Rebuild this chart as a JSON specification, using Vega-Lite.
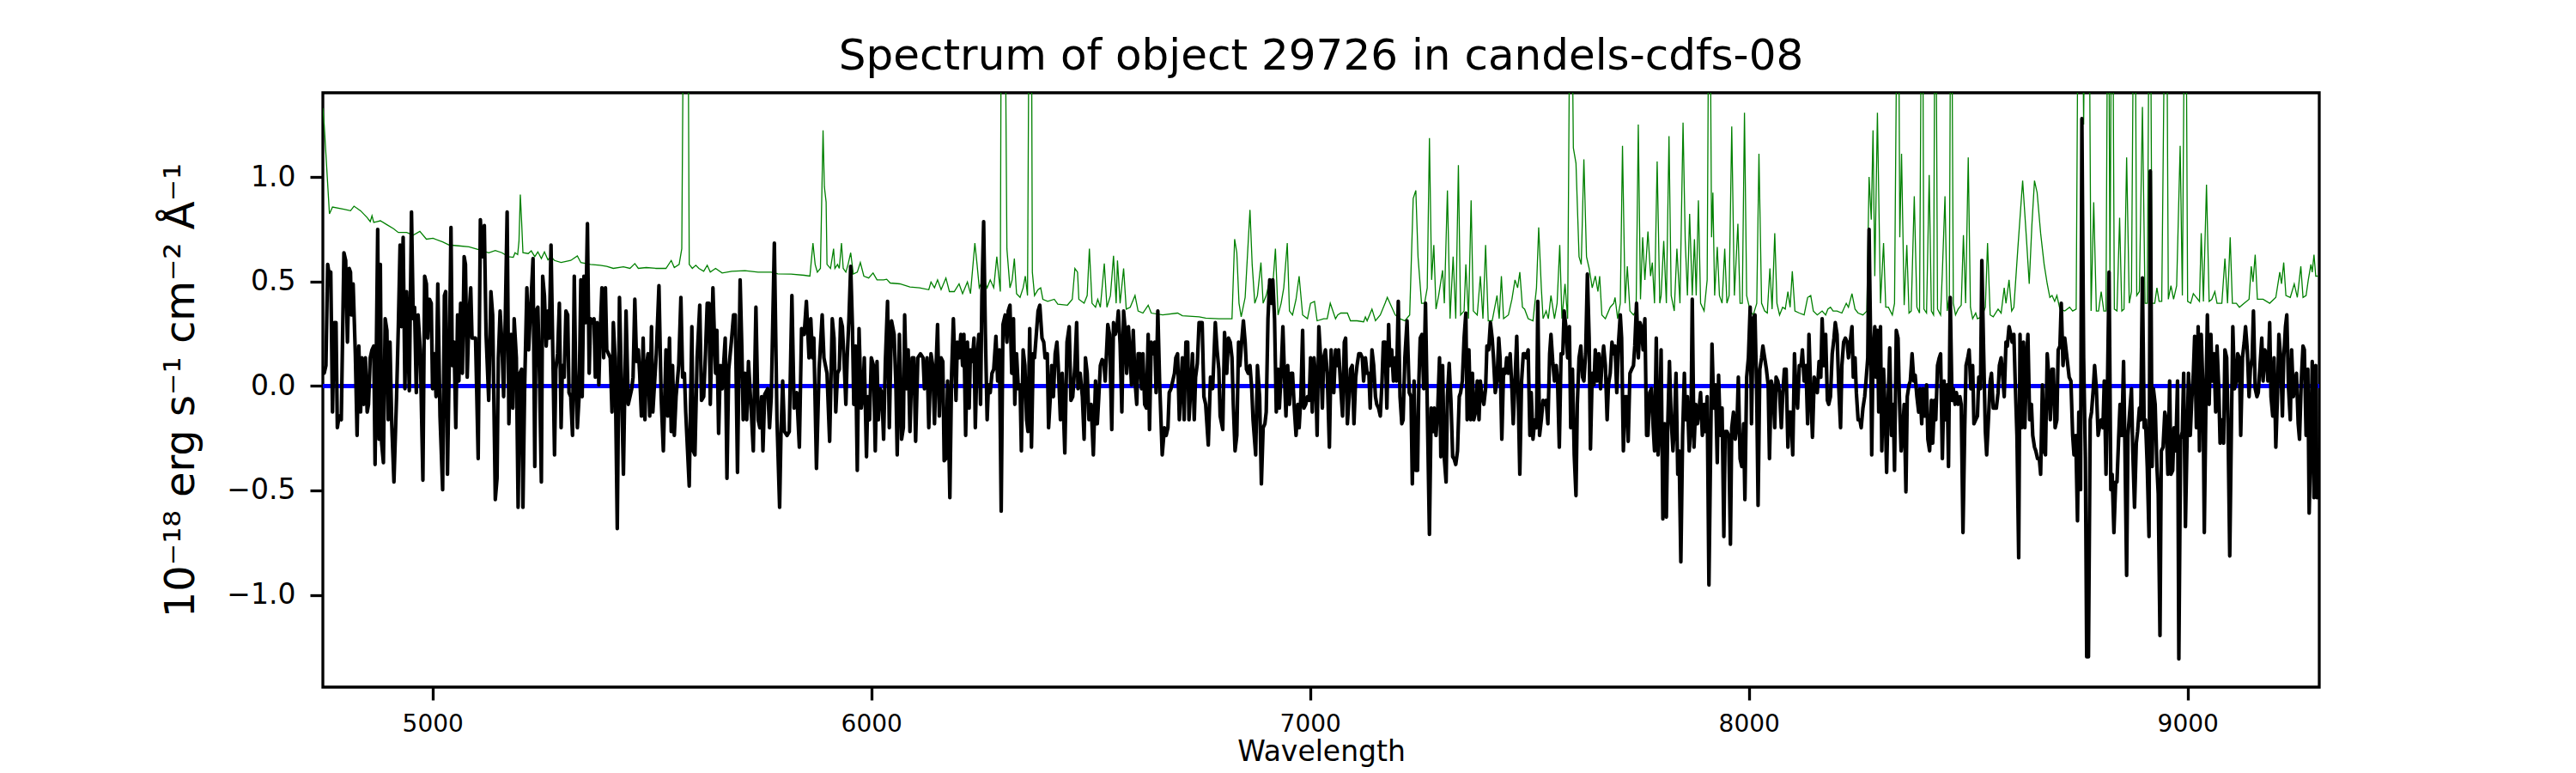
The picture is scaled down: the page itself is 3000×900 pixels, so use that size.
{
  "$schema": "https://vega.github.io/schema/vega-lite/v6.json",
  "width": 2325,
  "height": 692,
  "autosize": "none",
  "padding": {"left": 376, "top": 108, "right": 299, "bottom": 100},
  "background": "white",
  "config": {
    "font": "DejaVu Sans",
    "view": {"stroke": "black", "strokeWidth": 3.3},
    "axis": {"domain": false, "grid": false, "tickColor": "black", "tickWidth": 3.3, "tickSize": 15, "labelColor": "black", "titleColor": "black", "labelFont": "DejaVu Sans", "titleFont": "DejaVu Sans", "titleFontWeight": "normal"}
  },
  "title": {"text": "Spectrum of object 29726 in candels-cdfs-08", "fontSize": 50, "fontWeight": "normal", "font": "DejaVu Sans", "color": "black", "anchor": "middle", "frame": "group", "baseline": "alphabetic", "offset": -23},
  "datasets": {
    "zero": [{"w": 4750, "f": 0}, {"w": 9300, "f": 0}],
    "noise": [
{"w":4750,"f":1.33},{"w":4753,"f":1.252},{"w":4765,"f":0.824},{"w":4772,"f":0.857},{"w":4798,"f":0.846},{"w":4813,"f":0.839},{"w":4821,"f":0.861},{"w":4836,"f":0.839},{"w":4851,"f":0.806},{"w":4858,"f":0.787},{"w":4862,"f":0.815},{"w":4866,"f":0.783},{"w":4873,"f":0.787},{"w":4881,"f":0.791},{"w":4896,"f":0.772},{"w":4911,"f":0.753},{"w":4922,"f":0.735},{"w":4941,"f":0.735},{"w":4956,"f":0.722},{"w":4971,"f":0.74},{"w":4986,"f":0.703},{"w":5001,"f":0.707},{"w":5023,"f":0.69},{"w":5038,"f":0.675},{"w":5060,"f":0.671},{"w":5083,"f":0.666},{"w":5105,"f":0.653},{"w":5128,"f":0.638},{"w":5143,"f":0.649},{"w":5158,"f":0.638},{"w":5173,"f":0.619},{"w":5184,"f":0.616},{"w":5188,"f":0.638},{"w":5194,"f":0.629},{"w":5197,"f":0.694},{"w":5200,"f":0.917},{"w":5203,"f":0.787},{"w":5206,"f":0.638},{"w":5218,"f":0.634},{"w":5225,"f":0.647},{"w":5233,"f":0.619},{"w":5240,"f":0.642},{"w":5248,"f":0.61},{"w":5255,"f":0.642},{"w":5263,"f":0.604},{"w":5270,"f":0.619},{"w":5278,"f":0.601},{"w":5293,"f":0.591},{"w":5315,"f":0.601},{"w":5330,"f":0.623},{"w":5338,"f":0.591},{"w":5360,"f":0.582},{"w":5382,"f":0.578},{"w":5397,"f":0.573},{"w":5412,"f":0.563},{"w":5435,"f":0.571},{"w":5450,"f":0.563},{"w":5461,"f":0.586},{"w":5469,"f":0.563},{"w":5487,"f":0.567},{"w":5510,"f":0.563},{"w":5532,"f":0.563},{"w":5544,"f":0.601},{"w":5551,"f":0.567},{"w":5562,"f":0.582},{"w":5568,"f":0.657},{"w":5574,"f":2.5},{"w":5581,"f":2.5},{"w":5585,"f":0.582},{"w":5592,"f":0.563},{"w":5600,"f":0.578},{"w":5607,"f":0.563},{"w":5618,"f":0.549},{"w":5626,"f":0.578},{"w":5633,"f":0.545},{"w":5645,"f":0.563},{"w":5660,"f":0.541},{"w":5682,"f":0.549},{"w":5712,"f":0.552},{"w":5742,"f":0.545},{"w":5772,"f":0.545},{"w":5787,"f":0.537},{"w":5817,"f":0.536},{"w":5847,"f":0.53},{"w":5860,"f":0.526},{"w":5867,"f":0.684},{"w":5872,"f":0.582},{"w":5877,"f":0.545},{"w":5884,"f":0.563},{"w":5890,"f":1.224},{"w":5893,"f":0.954},{"w":5897,"f":0.88},{"w":5899,"f":0.582},{"w":5907,"f":0.563},
{"w":5914,"f":0.657},{"w":5917,"f":0.563},{"w":5923,"f":0.582},{"w":5927,"f":0.563},{"w":5932,"f":0.684},{"w":5936,"f":0.563},{"w":5942,"f":0.545},{"w":5947,"f":0.582},{"w":5953,"f":0.638},{"w":5959,"f":0.536},{"w":5968,"f":0.545},{"w":5975,"f":0.591},{"w":5983,"f":0.526},{"w":5994,"f":0.517},{"w":6004,"f":0.541},{"w":6013,"f":0.508},{"w":6028,"f":0.508},{"w":6035,"f":0.511},{"w":6043,"f":0.493},{"w":6065,"f":0.489},{"w":6088,"f":0.474},{"w":6110,"f":0.47},{"w":6131,"f":0.461},{"w":6136,"f":0.498},{"w":6144,"f":0.47},{"w":6151,"f":0.508},{"w":6159,"f":0.461},{"w":6170,"f":0.517},{"w":6178,"f":0.452},{"w":6189,"f":0.452},{"w":6200,"f":0.489},{"w":6208,"f":0.442},{"w":6219,"f":0.498},{"w":6226,"f":0.442},{"w":6236,"f":0.684},{"w":6241,"f":0.582},{"w":6246,"f":0.47},{"w":6256,"f":0.517},{"w":6264,"f":0.47},{"w":6271,"f":0.508},{"w":6279,"f":0.47},{"w":6286,"f":0.619},{"w":6294,"f":0.452},{"w":6297,"f":2.5},{"w":6303,"f":2.5},{"w":6309,"f":0.657},{"w":6316,"f":0.47},{"w":6321,"f":0.508},{"w":6326,"f":0.61},{"w":6331,"f":0.442},{"w":6339,"f":0.424},{"w":6346,"f":0.47},{"w":6351,"f":0.526},{"w":6356,"f":0.433},{"w":6361,"f":2.5},{"w":6364,"f":2.5},{"w":6367,"f":0.545},{"w":6372,"f":0.433},{"w":6380,"f":0.461},{"w":6386,"f":0.47},{"w":6391,"f":0.415},{"w":6402,"f":0.405},{"w":6417,"f":0.415},{"w":6425,"f":0.392},{"w":6447,"f":0.387},{"w":6458,"f":0.415},{"w":6464,"f":0.563},{"w":6470,"f":0.545},{"w":6473,"f":0.415},{"w":6485,"f":0.396},{"w":6492,"f":0.433},{"w":6497,"f":0.657},{"w":6503,"f":0.396},{"w":6511,"f":0.377},{"w":6516,"f":0.415},{"w":6522,"f":0.377},{"w":6531,"f":0.586},{"w":6537,"f":0.377},{"w":6545,"f":0.433},{"w":6552,"f":0.623},{"w":6558,"f":0.396},{"w":6561,"f":0.601},{"w":6567,"f":0.396},{"w":6575,"f":0.563},{"w":6581,"f":0.368},{"w":6590,"f":0.377},{"w":6601,"f":0.433},{"w":6608,"f":0.359},{"w":6619,"f":0.349},{"w":6631,"f":0.387},{"w":6638,"f":0.349},{"w":6664,"f":0.34},{"w":6698,"f":0.349},{"w":6709,"f":0.336},{"w":6747,"f":0.331},{"w":6762,"f":0.325},{"w":6792,"f":0.322},{"w":6822,"f":0.322},{"w":6828,"f":0.703},{"w":6833,"f":0.638},{"w":6838,"f":0.396},{"w":6843,"f":0.331},{"w":6852,"f":0.424},{"w":6863,"f":0.843},{"w":6868,"f":0.582},{"w":6874,"f":0.396},{"w":6880,"f":0.433},{"w":6888,"f":0.591},{"w":6893,"f":0.396},{"w":6900,"f":0.433},{"w":6908,"f":0.508},{"w":6913,"f":0.424},{"w":6921,"f":0.657},{"w":6927,"f":0.34},{"w":6934,"f":0.396},{"w":6940,"f":0.47},{"w":6948,"f":0.684},{"w":6953,"f":0.359},{"w":6960,"f":0.34},{"w":6968,"f":0.415},{"w":6975,"f":0.526},{"w":6983,"f":0.34},{"w":6994,"f":0.322},{"w":7001,"f":0.396},{"w":7010,"f":0.405},{"w":7016,"f":0.312},{"w":7031,"f":0.322},{"w":7039,"f":0.322},{"w":7046,"f":0.396},{"w":7058,"f":0.322},
{"w":7063,"f":0.34},{"w":7070,"f":0.349},{"w":7085,"f":0.349},{"w":7092,"f":0.312},{"w":7107,"f":0.312},{"w":7122,"f":0.307},{"w":7126,"f":0.331},{"w":7130,"f":0.312},{"w":7141,"f":0.368},{"w":7149,"f":0.312},{"w":7160,"f":0.34},{"w":7171,"f":0.396},{"w":7176,"f":0.424},{"w":7182,"f":0.396},{"w":7194,"f":0.34},{"w":7205,"f":0.322},{"w":7216,"f":0.312},{"w":7227,"f":0.34},{"w":7235,"f":0.898},{"w":7241,"f":0.936},{"w":7246,"f":0.619},{"w":7250,"f":0.508},{"w":7254,"f":0.396},{"w":7261,"f":0.396},{"w":7267,"f":0.47},{"w":7272,"f":1.187},{"w":7277,"f":0.508},{"w":7282,"f":0.675},{"w":7287,"f":0.368},{"w":7293,"f":0.433},{"w":7302,"f":0.554},{"w":7306,"f":0.396},{"w":7313,"f":0.936},{"w":7319,"f":0.322},{"w":7326,"f":0.619},{"w":7332,"f":0.322},{"w":7338,"f":1.057},{"w":7343,"f":0.34},{"w":7351,"f":0.359},{"w":7355,"f":0.582},{"w":7361,"f":0.322},{"w":7367,"f":0.889},{"w":7372,"f":0.359},{"w":7381,"f":0.34},{"w":7388,"f":0.526},{"w":7394,"f":0.322},{"w":7400,"f":0.675},{"w":7406,"f":0.312},{"w":7415,"f":0.312},{"w":7426,"f":0.433},{"w":7431,"f":0.322},{"w":7436,"f":0.526},{"w":7441,"f":0.322},{"w":7452,"f":0.34},{"w":7460,"f":0.415},{"w":7467,"f":0.508},{"w":7473,"f":0.47},{"w":7478,"f":0.545},{"w":7484,"f":0.377},{"w":7489,"f":0.368},{"w":7497,"f":0.322},{"w":7508,"f":0.312},{"w":7516,"f":0.47},{"w":7521,"f":0.759},{"w":7527,"f":0.47},{"w":7531,"f":0.322},{"w":7538,"f":0.359},{"w":7543,"f":0.322},{"w":7549,"f":0.433},{"w":7557,"f":0.322},{"w":7563,"f":0.396},{"w":7569,"f":0.675},{"w":7574,"f":0.322},{"w":7581,"f":0.489},{"w":7587,"f":0.322},{"w":7594,"f":2.5},{"w":7600,"f":1.14},{"w":7606,"f":1.066},{"w":7613,"f":0.619},{"w":7618,"f":0.582},{"w":7624,"f":1.085},{"w":7630,"f":0.619},{"w":7636,"f":0.563},{"w":7643,"f":0.47},{"w":7650,"f":0.526},{"w":7656,"f":0.452},{"w":7660,"f":0.526},{"w":7665,"f":0.34},{"w":7673,"f":0.322},{"w":7684,"f":0.377},{"w":7692,"f":0.396},{"w":7695,"f":0.424},{"w":7701,"f":0.322},{"w":7707,"f":0.396},{"w":7712,"f":1.15},{"w":7718,"f":0.396},{"w":7723,"f":0.573},{"w":7729,"f":0.359},{"w":7737,"f":0.34},{"w":7743,"f":0.359},{"w":7748,"f":1.252},{"w":7753,"f":0.415},{"w":7758,"f":0.712},{"w":7763,"f":0.508},{"w":7770,"f":0.74},{"w":7776,"f":0.526},{"w":7780,"f":0.591},{"w":7785,"f":0.396},{"w":7791,"f":1.075},{"w":7797,"f":0.396},{"w":7800,"f":0.433},{"w":7806,"f":0.694},{"w":7812,"f":0.396},{"w":7818,"f":1.196},{"w":7823,"f":0.433},{"w":7830,"f":0.359},{"w":7836,"f":0.657},{"w":7843,"f":0.396},{"w":7850,"f":1.261},{"w":7855,"f":0.694},{"w":7860,"f":0.433},{"w":7865,"f":0.824},{"w":7871,"f":0.433},{"w":7876,"f":0.703},{"w":7880,"f":0.433},{"w":7885,"f":0.889},{"w":7890,"f":0.396},{"w":7898,"f":0.359},{"w":7905,"f":0.508},{"w":7910,"f":2.5},{"w":7915,"f":0.712},{"w":7918,"f":0.926},{"w":7922,"f":0.433},{"w":7928,"f":0.666},{"w":7933,"f":0.433},{"w":7939,"f":0.396},{"w":7945,"f":0.657},{"w":7950,"f":0.396},{"w":7955,"f":0.433},{"w":7961,"f":1.243},{"w":7967,"f":0.433},{"w":7975,"f":0.777},{"w":7980,"f":0.396},{"w":7985,"f":0.396},{"w":7990,"f":1.308},{"w":7995,"f":0.433},{"w":8003,"f":0.359},{"w":8010,"f":0.34},{"w":8018,"f":0.396},{"w":8023,"f":1.112},{"w":8029,"f":0.396},{"w":8036,"f":0.359},{"w":8042,"f":0.349},{"w":8048,"f":0.563},{"w":8053,"f":0.368},{"w":8059,"f":0.731},{"w":8064,"f":0.396},{"w":8070,"f":0.34},{"w":8077,"f":0.377},{"w":8083,"f":0.368},{"w":8089,"f":0.452},{"w":8094,"f":0.377},{"w":8099,"f":0.549},{"w":8105,"f":0.359},{"w":8115,"f":0.349},{"w":8126,"f":0.34},{"w":8134,"f":0.424},{"w":8141,"f":0.433},{"w":8147,"f":0.359},{"w":8156,"f":0.34},{"w":8167,"f":0.359},{"w":8175,"f":0.34},{"w":8180,"f":0.368},{"w":8186,"f":0.377},{"w":8192,"f":0.359},{"w":8201,"f":0.359},{"w":8212,"f":0.349},{"w":8222,"f":0.396},
{"w":8227,"f":0.377},{"w":8235,"f":0.442},{"w":8242,"f":0.368},{"w":8249,"f":0.349},{"w":8260,"f":0.34},{"w":8269,"f":0.359},{"w":8274,"f":1.001},{"w":8279,"f":0.796},{"w":8283,"f":1.224},{"w":8287,"f":0.526},{"w":8293,"f":1.308},{"w":8300,"f":0.396},{"w":8307,"f":0.684},{"w":8312,"f":0.377},{"w":8318,"f":0.377},{"w":8327,"f":0.34},{"w":8332,"f":0.396},{"w":8340,"f":2.5},{"w":8344,"f":0.712},{"w":8348,"f":1.112},{"w":8354,"f":0.387},{"w":8360,"f":0.675},{"w":8365,"f":0.349},{"w":8370,"f":0.359},{"w":8377,"f":0.908},{"w":8383,"f":0.377},{"w":8389,"f":0.349},{"w":8395,"f":2.5},{"w":8399,"f":0.368},{"w":8405,"f":0.349},{"w":8411,"f":1.01},{"w":8416,"f":0.359},{"w":8421,"f":0.34},{"w":8425,"f":2.5},{"w":8430,"f":0.368},{"w":8437,"f":0.34},{"w":8441,"f":0.545},{"w":8447,"f":0.908},{"w":8452,"f":0.359},{"w":8457,"f":0.433},{"w":8461,"f":2.5},{"w":8466,"f":0.396},{"w":8471,"f":0.34},{"w":8477,"f":0.368},{"w":8484,"f":0.387},{"w":8489,"f":0.722},{"w":8494,"f":0.396},{"w":8500,"f":1.094},{"w":8505,"f":0.377},{"w":8510,"f":0.322},{"w":8517,"f":0.349},{"w":8521,"f":0.322},{"w":8531,"f":0.331},{"w":8539,"f":0.377},{"w":8544,"f":0.684},{"w":8550,"f":0.34},{"w":8557,"f":0.331},{"w":8568,"f":0.368},{"w":8575,"f":0.349},{"w":8582,"f":0.47},{"w":8586,"f":0.396},{"w":8593,"f":0.508},{"w":8599,"f":0.359},{"w":8604,"f":0.377},{"w":8613,"f":0.657},{"w":8624,"f":0.983},{"w":8633,"f":0.694},{"w":8639,"f":0.489},{"w":8645,"f":0.768},{"w":8651,"f":0.983},{"w":8657,"f":0.926},{"w":8665,"f":0.731},{"w":8673,"f":0.582},{"w":8680,"f":0.489},{"w":8686,"f":0.424},{"w":8691,"f":0.433},{"w":8697,"f":0.405},{"w":8702,"f":0.433},{"w":8709,"f":0.368},{"w":8720,"f":0.359},{"w":8731,"f":0.377},{"w":8738,"f":0.359},{"w":8746,"f":0.368},{"w":8752,"f":2.5},{"w":8758,"f":2.5},{"w":8763,"f":1.252},{"w":8768,"f":2.5},{"w":8774,"f":2.5},{"w":8780,"f":0.359},{"w":8786,"f":0.88},{"w":8792,"f":0.359},{"w":8797,"f":0.359},{"w":8803,"f":0.452},{"w":8809,"f":0.359},{"w":8814,"f":0.359},{"w":8819,"f":2.5},{"w":8823,"f":0.508},{"w":8828,"f":2.5},{"w":8833,"f":0.368},{"w":8839,"f":0.359},{"w":8845,"f":0.806},{"w":8850,"f":0.359},{"w":8855,"f":0.368},{"w":8861,"f":1.094},{"w":8867,"f":0.396},{"w":8872,"f":0.452},{"w":8879,"f":2.5},{"w":8884,"f":0.433},{"w":8890,"f":0.452},{"w":8897,"f":1.336},{"w":8903,"f":0.396},{"w":8908,"f":0.396},{"w":8914,"f":2.5},{"w":8919,"f":0.396},{"w":8925,"f":0.396},{"w":8930,"f":0.47},{"w":8935,"f":0.405},{"w":8941,"f":0.405},{"w":8951,"f":2.5},{"w":8956,"f":0.415},{"w":8962,"f":0.48},{"w":8968,"f":0.415},{"w":8975,"f":0.48},{"w":8983,"f":1.15},{"w":8988,"f":0.433},{"w":8995,"f":2.5},{"w":9000,"f":0.405},{"w":9007,"f":0.396},{"w":9013,"f":0.442},{"w":9020,"f":0.424},{"w":9027,"f":0.405},{"w":9031,"f":0.731},{"w":9036,"f":0.405},{"w":9043,"f":0.964},{"w":9049,"f":0.405},{"w":9055,"f":0.415},{"w":9062,"f":0.452},{"w":9067,"f":0.396},{"w":9078,"f":0.396},{"w":9085,"f":0.61},{"w":9091,"f":0.396},{"w":9097,"f":0.712},{"w":9102,"f":0.396},{"w":9111,"f":0.396},{"w":9118,"f":0.377},{"w":9129,"f":0.396},{"w":9140,"f":0.415},{"w":9145,"f":0.573},{"w":9149,"f":0.498},{"w":9154,"f":0.629},{"w":9159,"f":0.415},{"w":9172,"f":0.415},{"w":9187,"f":0.396},{"w":9201,"f":0.424},{"w":9210,"f":0.545},{"w":9214,"f":0.489},{"w":9219,"f":0.591},{"w":9224,"f":0.433},{"w":9234,"f":0.424},{"w":9243,"f":0.489},{"w":9250,"f":0.424},{"w":9258,"f":0.573},{"w":9263,"f":0.424},{"w":9270,"f":0.433},{"w":9275,"f":0.508},{"w":9281,"f":0.582},{"w":9284,"f":0.545},{"w":9288,"f":0.629},{"w":9292,"f":0.526},{"w":9297,"f":0.526}
    ],
    "flux": [
{"w":4750,"f":0.06},{"w":4753,"f":0.061},{"w":4757,"f":0.098},{"w":4761,"f":0.582},{"w":4765,"f":0.526},{"w":4768,"f":0.545},{"w":4772,"f":-0.125},{"w":4776,"f":0.303},{"w":4780,"f":0.303},{"w":4783,"f":-0.2},{"w":4787,"f":-0.144},{"w":4792,"f":-0.162},{"w":4798,"f":0.638},{"w":4802,"f":0.601},{"w":4806,"f":0.21},{"w":4810,"f":0.563},{"w":4813,"f":0.545},{"w":4815,"f":0.34},{"w":4819,"f":0.489},{"w":4824,"f":0.154},{"w":4828,"f":-0.237},{"w":4832,"f":0.191},{"w":4836,"f":-0.125},{"w":4839,"f":0.135},{"w":4843,"f":-0.088},{"w":4847,"f":0.135},{"w":4851,"f":-0.125},{"w":4854,"f":-0.088},{"w":4858,"f":0.135},{"w":4862,"f":0.173},{"w":4866,"f":0.191},{"w":4869,"f":-0.376},{"w":4875,"f":0.75},{"w":4878,"f":-0.255},{"w":4881,"f":0.582},{"w":4884,"f":-0.274},{"w":4888,"f":-0.367},{"w":4892,"f":0.322},{"w":4896,"f":0.266},{"w":4899,"f":-0.162},{"w":4903,"f":0.21},{"w":4907,"f":-0.181},{"w":4912,"f":-0.46},{"w":4918,"f":-0.051},{"w":4922,"f":0.284},{"w":4926,"f":0.675},{"w":4929,"f":0.284},{"w":4933,"f":0.712},{"w":4937,"f":-0.013},{"w":4941,"f":0.452},{"w":4947,"f":-0.023},{"w":4952,"f":0.833},{"w":4956,"f":0.322},{"w":4959,"f":0.377},{"w":4963,"f":-0.032},{"w":4967,"f":0.34},{"w":4972,"f":0.173},{"w":4978,"f":-0.451},{"w":4982,"f":0.526},{"w":4986,"f":0.489},{"w":4989,"f":0.229},{"w":4993,"f":0.415},{"w":4997,"f":0.396},{"w":5000,"f":-0.013},{"w":5004,"f":0.154},{"w":5008,"f":-0.051},{"w":5012,"f":0.489},{"w":5017,"f":-0.144},{"w":5023,"f":-0.497},{"w":5027,"f":0.433},{"w":5030,"f":0.452},{"w":5034,"f":-0.423},{"w":5038,"f":0.098},{"w":5042,"f":0.759},{"w":5045,"f":0.098},{"w":5049,"f":0.21},{"w":5053,"f":-0.2},{"w":5057,"f":0.34},{"w":5060,"f":0.024},{"w":5064,"f":0.396},{"w":5068,"f":0.061},{"w":5072,"f":0.619},{"w":5075,"f":0.582},{"w":5079,"f":0.042},{"w":5083,"f":0.34},{"w":5087,"f":0.47},{"w":5090,"f":0.229},{"w":5098,"f":0.229},{"w":5104,"f":-0.348},{"w":5109,"f":0.796},{"w":5113,"f":0.619},{"w":5118,"f":0.768},{"w":5122,"f":0.247},{"w":5128,"f":-0.069},{"w":5133,"f":0.452},{"w":5137,"f":0.34},{"w":5143,"f":-0.544},{"w":5147,"f":-0.442},{"w":5150,"f":0.135},{"w":5154,"f":0.359},{"w":5158,"f":0.21},{"w":5162,"f":-0.051},{"w":5165,"f":0.229},{"w":5170,"f":0.833},{"w":5174,"f":-0.181},{"w":5179,"f":0.247},{"w":5183,"f":-0.106},{"w":5186,"f":0.322},{"w":5191,"f":0.135},{"w":5195,"f":-0.581},{"w":5199,"f":0.061},{"w":5203,"f":0.08},{"w":5206,"f":-0.581},{"w":5210,"f":0.005},{"w":5215,"f":0.47},{"w":5219,"f":0.173},{"w":5225,"f":0.433},{"w":5229,"f":0.61},{"w":5233,"f":-0.386},{"w":5236,"f":0.359},{"w":5240,"f":0.377},{"w":5244,"f":0.024},{"w":5248,"f":-0.46},{"w":5251,"f":0.526},{"w":5255,"f":0.433},{"w":5259,"f":0.191},{"w":5263,"f":0.359},{"w":5266,"f":0.229},{"w":5270,"f":0.675},{"w":5274,"f":0.173},{"w":5278,"f":-0.33},{"w":5281,"f":0.08},{"w":5285,"f":0.154},{"w":5289,"f":0.396},{"w":5293,"f":-0.2},{"w":5296,"f":0.098},{"w":5300,"f":0.042},{"w":5304,"f":0.359},{"w":5308,"f":0.34},{"w":5311,"f":-0.032},{"w":5315,"f":-0.051},{"w":5319,"f":-0.237},{"w":5323,"f":0.526},{"w":5326,"f":0.08},{"w":5330,"f":-0.2},{"w":5334,"f":-0.051},{"w":5338,"f":0.508},{"w":5341,"f":-0.051},{"w":5345,"f":0.526},{"w":5349,"f":0.303},{"w":5353,"f":0.777},{"w":5357,"f":0.061},{"w":5360,"f":0.322},{"w":5364,"f":0.303},{"w":5368,"f":0.322},{"w":5371,"f":0.042},{"w":5375,"f":0.303},{"w":5379,"f":0.005},{"w":5382,"f":0.247},{"w":5386,"f":0.47},{"w":5390,"f":0.135},{"w":5394,"f":0.47},{"w":5397,"f":0.173},{"w":5401,"f":0.154},{"w":5405,"f":0.135},{"w":5409,"f":-0.125},{"w":5412,"f":0.303},{"w":5416,"f":0.135},{"w":5421,"f":-0.683},{"w":5426,"f":0.424},{"w":5431,"f":-0.032},{"w":5435,"f":-0.423},{"w":5441,"f":0.359},{"w":5446,"f":-0.088},{"w":5450,"f":-0.051},{"w":5454,"f":-0.013},{"w":5457,"f":0.042},{"w":5461,"f":0.415},{"w":5465,"f":0.117},{"w":5469,"f":0.173},{"w":5472,"f":0.061},{"w":5476,"f":-0.144},{"w":5480,"f":0.229},{"w":5484,"f":-0.162},{"w":5487,"f":0.08},{"w":5491,"f":0.154},{"w":5495,"f":-0.144},{"w":5499,"f":0.284},{"w":5502,"f":-0.125},{"w":5510,"f":0.154},{"w":5516,"f":0.48},{"w":5521,"f":-0.051},{"w":5526,"f":-0.311},{"w":5532,"f":0.173},{"w":5536,"f":-0.144},{"w":5540,"f":0.229},{"w":5544,"f":-0.218},{"w":5547,"f":0.098},{"w":5551,"f":-0.237},{"w":5555,"f":-0.051},{"w":5561,"f":0.098},{"w":5566,"f":0.424},{"w":5570,"f":0.042},{"w":5574,"f":0.061},{"w":5577,"f":-0.125},{"w":5585,"f":-0.479},{"w":5591,"f":0.284},{"w":5594,"f":-0.311},{"w":5598,"f":-0.33},{"w":5603,"f":0.135},{"w":5609,"f":0.387},{"w":5613,"f":-0.069},{"w":5618,"f":-0.051},{"w":5622,"f":0.154},{"w":5626,"f":0.396},{"w":5630,"f":0.396},{"w":5633,"f":-0.088},{"w":5639,"f":0.47},{"w":5645,"f":0.061},{"w":5648,"f":0.266},{"w":5652,"f":-0.227},{"w":5656,"f":0.098},{"w":5660,"f":-0.013},{"w":5667,"f":0.229},{"w":5671,"f":-0.442},{"w":5675,"f":0.08},{"w":5681,"f":0.21},{"w":5686,"f":0.34},{"w":5690,"f":0.34},{"w":5695,"f":-0.414},{"w":5701,"f":0.508},{"w":5705,"f":0.173},{"w":5708,"f":-0.162},{"w":5712,"f":0.061},{"w":5716,"f":-0.162},{"w":5720,"f":0.117},{"w":5723,"f":0.005},{"w":5727,"f":-0.144},{"w":5731,"f":-0.311},{"w":5737,"f":0.377},{"w":5742,"f":-0.162},{"w":5746,"f":-0.2},{"w":5750,"f":-0.051},{"w":5753,"f":-0.311},{"w":5757,"f":-0.041},{"w":5764,"f":-0.013},{"w":5768,"f":-0.2},{"w":5772,"f":-0.051},{"w":5779,"f":0.684},{"w":5785,"f":-0.162},{"w":5791,"f":-0.581},{"w":5794,"f":-0.237},{"w":5798,"f":0.024},{"w":5802,"f":-0.218},{"w":5808,"f":-0.237},{"w":5813,"f":-0.218},{"w":5819,"f":0.433},{"w":5824,"f":-0.106},{"w":5830,"f":-0.032},{"w":5836,"f":-0.293},{"w":5841,"f":0.275},{"w":5847,"f":0.247},{"w":5852,"f":0.405},{"w":5858,"f":0.135},{"w":5862,"f":0.322},{"w":5866,"f":0.135},{"w":5869,"f":0.229},{"w":5875,"f":-0.395},{"w":5881,"f":0.08},{"w":5888,"f":0.34},{"w":5892,"f":0.135},{"w":5899,"f":0.061},{"w":5905,"f":-0.265},{"w":5911,"f":0.322},
{"w":5915,"f":0.229},{"w":5919,"f":-0.125},{"w":5923,"f":0.061},{"w":5927,"f":0.08},{"w":5930,"f":0.322},{"w":5934,"f":0.284},{"w":5938,"f":0.117},{"w":5942,"f":-0.088},{"w":5945,"f":0.135},{"w":5949,"f":0.322},{"w":5953,"f":0.573},{"w":5957,"f":0.284},{"w":5960,"f":-0.088},{"w":5964,"f":0.191},{"w":5968,"f":-0.404},{"w":5972,"f":0.275},{"w":5977,"f":-0.106},{"w":5981,"f":-0.032},{"w":5984,"f":0.135},{"w":5989,"f":-0.339},{"w":5992,"f":-0.051},{"w":5996,"f":-0.162},{"w":6000,"f":0.135},{"w":6005,"f":0.098},{"w":6009,"f":-0.311},{"w":6013,"f":0.117},{"w":6016,"f":-0.162},{"w":6020,"f":-0.013},{"w":6024,"f":-0.032},{"w":6028,"f":-0.255},{"w":6032,"f":0.117},{"w":6037,"f":0.405},{"w":6041,"f":-0.2},{"w":6046,"f":0.312},{"w":6052,"f":0.247},{"w":6056,"f":0.005},{"w":6059,"f":-0.33},{"w":6064,"f":0.247},{"w":6069,"f":-0.255},{"w":6073,"f":-0.2},{"w":6076,"f":0.34},{"w":6080,"f":-0.013},{"w":6084,"f":0.173},{"w":6088,"f":-0.218},{"w":6093,"f":0.135},{"w":6097,"f":0.135},{"w":6101,"f":-0.265},{"w":6106,"f":0.135},{"w":6112,"f":0.154},{"w":6118,"f":0.135},{"w":6121,"f":-0.013},{"w":6127,"f":0.135},{"w":6131,"f":-0.2},{"w":6136,"f":0.154},{"w":6140,"f":0.098},{"w":6144,"f":-0.181},{"w":6148,"f":0.117},{"w":6151,"f":0.294},{"w":6155,"f":-0.144},{"w":6159,"f":0.135},{"w":6163,"f":0.117},{"w":6166,"f":-0.358},{"w":6170,"f":-0.348},{"w":6174,"f":0.024},{"w":6179,"f":-0.535},{"w":6183,"f":0.061},{"w":6187,"f":0.322},{"w":6193,"f":-0.069},{"w":6196,"f":0.21},{"w":6200,"f":0.135},{"w":6204,"f":0.247},{"w":6208,"f":0.098},{"w":6211,"f":0.247},{"w":6215,"f":-0.237},{"w":6219,"f":0.21},{"w":6223,"f":-0.106},{"w":6226,"f":0.173},{"w":6230,"f":0.117},{"w":6234,"f":0.229},{"w":6237,"f":-0.2},{"w":6241,"f":0.135},{"w":6245,"f":0.247},{"w":6249,"f":-0.088},{"w":6252,"f":0.433},{"w":6256,"f":0.787},{"w":6260,"f":0.247},{"w":6264,"f":-0.162},{"w":6267,"f":0.005},{"w":6271,"f":-0.032},{"w":6275,"f":0.061},{"w":6279,"f":0.08},{"w":6284,"f":0.238},{"w":6288,"f":0.024},{"w":6292,"f":0.173},{"w":6296,"f":-0.6},{"w":6300,"f":0.294},{"w":6305,"f":0.34},{"w":6309,"f":0.21},{"w":6312,"f":0.359},{"w":6316,"f":0.387},{"w":6320,"f":0.061},{"w":6324,"f":0.322},{"w":6327,"f":-0.088},{"w":6331,"f":0.154},{"w":6335,"f":-0.013},{"w":6339,"f":0.005},{"w":6342,"f":-0.311},{"w":6346,"f":0.173},{"w":6350,"f":0.098},{"w":6354,"f":-0.162},{"w":6357,"f":-0.218},{"w":6361,"f":0.275},{"w":6365,"f":-0.293},{"w":6369,"f":0.154},{"w":6372,"f":0.135},{"w":6380,"f":0.359},{"w":6384,"f":0.387},{"w":6389,"f":0.229},{"w":6393,"f":0.21},{"w":6396,"f":0.135},{"w":6401,"f":0.154},{"w":6404,"f":-0.2},{"w":6408,"f":-0.051},{"w":6411,"f":0.098},{"w":6415,"f":-0.051},{"w":6419,"f":0.154},{"w":6423,"f":0.21},{"w":6426,"f":0.098},{"w":6431,"f":-0.162},{"w":6435,"f":0.061},{"w":6441,"f":-0.321},{"w":6446,"f":0.21},{"w":6451,"f":0.284},{"w":6455,"f":-0.069},{"w":6459,"f":-0.051},{"w":6464,"f":0.098},{"w":6468,"f":0.303},{"w":6471,"f":-0.013},{"w":6476,"f":0.061},{"w":6481,"f":-0.051},{"w":6485,"f":-0.255},{"w":6488,"f":0.135},{"w":6492,"f":0.061},{"w":6496,"f":-0.162},{"w":6501,"f":-0.088},{"w":6506,"f":-0.33},{"w":6511,"f":0.024},{"w":6515,"f":-0.181},{"w":6518,"f":-0.069},{"w":6522,"f":0.098},{"w":6526,"f":0.126},{"w":6530,"f":0.117},{"w":6533,"f":0.024},{"w":6539,"f":0.294},{"w":6543,"f":0.247},{"w":6548,"f":-0.209},{"w":6552,"f":0.303},{"w":6556,"f":0.247},{"w":6560,"f":0.284},{"w":6563,"f":0.359},{"w":6567,"f":0.201},{"w":6571,"f":-0.125},{"w":6575,"f":0.359},{"w":6578,"f":0.284},{"w":6582,"f":0.061},{"w":6586,"f":0.284},{"w":6590,"f":0.135},{"w":6593,"f":0.005},{"w":6597,"f":0.266},{"w":6601,"f":0.024},{"w":6605,"f":-0.088},{"w":6608,"f":0.154},{"w":6612,"f":0.154},{"w":6616,"f":-0.013},{"w":6619,"f":0.154},{"w":6623,"f":-0.088},{"w":6627,"f":-0.106},{"w":6631,"f":0.247},{"w":6634,"f":-0.209},{"w":6638,"f":0.21},{"w":6642,"f":0.154},{"w":6646,"f":0.21},{"w":6649,"f":-0.032},{"w":6653,"f":0.359},{"w":6657,"f":0.024},{"w":6663,"f":-0.33},{"w":6668,"f":-0.2},{"w":6672,"f":-0.237},{"w":6676,"f":-0.2},{"w":6679,"f":-0.032},{"w":6683,"f":-0.013},{"w":6687,"f":0.024},{"w":6691,"f":0.061},{"w":6694,"f":0.135},{"w":6698,"f":0.154},{"w":6702,"f":-0.162},{"w":6706,"f":0.024},{"w":6709,"f":0.135},{"w":6713,"f":-0.162},{"w":6717,"f":0.21},{"w":6721,"f":0.21},{"w":6724,"f":-0.162},{"w":6728,"f":-0.013},{"w":6732,"f":0.154},{"w":6736,"f":-0.162},{"w":6739,"f":0.042},{"w":6743,"f":0.108},{"w":6747,"f":0.303},{"w":6751,"f":0.303},{"w":6754,"f":0.303},{"w":6758,"f":-0.051},{"w":6762,"f":-0.088},{"w":6768,"f":-0.283},{"w":6773,"f":0.042},{"w":6778,"f":-0.013},{"w":6784,"f":0.303},{"w":6788,"f":0.173},{"w":6792,"f":0.08},{"w":6795,"f":-0.144},{"w":6801,"f":-0.209},{"w":6805,"f":0.256},{"w":6810,"f":0.061},{"w":6814,"f":0.229},{"w":6818,"f":0.21},{"w":6822,"f":0.135},{"w":6825,"f":-0.088},{"w":6829,"f":-0.311},{"w":6833,"f":-0.237},{"w":6837,"f":0.21},{"w":6840,"f":0.098},{"w":6844,"f":0.21},{"w":6848,"f":0.312},{"w":6852,"f":0.21},{"w":6855,"f":0.08},{"w":6859,"f":0.061},{"w":6863,"f":0.098},{"w":6867,"f":-0.013},{"w":6870,"f":-0.162},{"w":6876,"f":-0.33},{"w":6880,"f":0.098},{"w":6885,"f":-0.051},{"w":6889,"f":-0.469},{"w":6893,"f":-0.2},{"w":6897,"f":-0.181},{"w":6900,"f":-0.125},{"w":6904,"f":0.322},{"w":6908,"f":0.508},{"w":6912,"f":0.396},{"w":6915,"f":0.508},{"w":6919,"f":0.322},{"w":6923,"f":-0.125},{"w":6927,"f":0.08},{"w":6930,"f":-0.106},{"w":6934,"f":0.061},{"w":6938,"f":0.284},{"w":6942,"f":0.024},{"w":6945,"f":-0.144},{"w":6949,"f":0.098},{"w":6953,"f":-0.088},{"w":6957,"f":0.061},{"w":6960,"f":0.061},{"w":6964,"f":-0.106},{"w":6968,"f":-0.237},{"w":6972,"f":-0.088},{"w":6975,"f":-0.2},{"w":6979,"f":-0.051},{"w":6983,"f":0.266},{"w":6986,"f":-0.106},{"w":6990,"f":-0.088},{"w":6994,"f":-0.051},{"w":6998,"f":-0.069},{"w":7001,"f":0.135},{"w":7005,"f":-0.125},{"w":7009,"f":0.135},{"w":7013,"f":0.024},{"w":7016,"f":-0.237},{"w":7020,"f":0.284},{"w":7024,"f":0.135},{"w":7028,"f":-0.106},{"w":7031,"f":0.135},{"w":7035,"f":0.173},{"w":7039,"f":0.061},{"w":7044,"f":-0.293},{"w":7048,"f":0.173},{"w":7054,"f":-0.032},{"w":7058,"f":0.173},{"w":7061,"f":0.098},{"w":7065,"f":0.173},
{"w":7070,"f":-0.013},{"w":7074,"f":-0.144},{"w":7078,"f":0.21},{"w":7081,"f":0.229},{"w":7085,"f":-0.181},{"w":7089,"f":-0.051},{"w":7092,"f":0.08},{"w":7096,"f":0.098},{"w":7100,"f":-0.181},{"w":7104,"f":0.042},{"w":7107,"f":0.098},{"w":7111,"f":0.154},{"w":7115,"f":0.154},{"w":7119,"f":0.135},{"w":7122,"f":0.024},{"w":7126,"f":0.135},{"w":7130,"f":0.061},{"w":7134,"f":0.061},{"w":7137,"f":-0.106},{"w":7141,"f":0.173},{"w":7145,"f":0.098},{"w":7149,"f":-0.051},{"w":7152,"f":-0.088},{"w":7156,"f":-0.106},{"w":7160,"f":-0.144},{"w":7164,"f":0.024},{"w":7167,"f":0.21},{"w":7171,"f":0.21},{"w":7175,"f":-0.106},{"w":7179,"f":0.294},{"w":7182,"f":0.098},{"w":7186,"f":0.173},{"w":7190,"f":0.024},{"w":7194,"f":0.135},{"w":7197,"f":0.024},{"w":7201,"f":0.405},{"w":7205,"f":-0.051},{"w":7209,"f":-0.181},{"w":7212,"f":-0.162},{"w":7216,"f":0.135},{"w":7221,"f":0.312},{"w":7226,"f":-0.032},{"w":7230,"f":-0.051},{"w":7233,"f":-0.469},{"w":7237,"f":0.024},{"w":7241,"f":-0.404},{"w":7245,"f":-0.404},{"w":7248,"f":0.024},{"w":7251,"f":0.229},{"w":7255,"f":0.247},{"w":7259,"f":-0.013},{"w":7263,"f":0.396},{"w":7267,"f":-0.088},{"w":7272,"f":-0.711},{"w":7276,"f":-0.106},{"w":7280,"f":-0.218},{"w":7283,"f":-0.106},{"w":7287,"f":-0.237},{"w":7291,"f":-0.106},{"w":7295,"f":0.135},{"w":7298,"f":-0.339},{"w":7302,"f":0.098},{"w":7306,"f":-0.348},{"w":7310,"f":-0.46},{"w":7313,"f":-0.051},{"w":7317,"f":0.108},{"w":7321,"f":-0.069},{"w":7325,"f":-0.339},{"w":7328,"f":-0.348},{"w":7332,"f":-0.376},{"w":7336,"f":-0.311},{"w":7340,"f":-0.051},{"w":7343,"f":-0.032},{"w":7347,"f":0.024},{"w":7351,"f":0.229},{"w":7355,"f":0.349},{"w":7358,"f":-0.162},{"w":7362,"f":0.173},{"w":7366,"f":-0.162},{"w":7370,"f":0.061},{"w":7373,"f":-0.162},{"w":7377,"f":-0.125},{"w":7381,"f":0.024},{"w":7385,"f":-0.162},{"w":7388,"f":0.024},{"w":7392,"f":-0.051},{"w":7396,"f":-0.088},{"w":7400,"f":-0.013},{"w":7403,"f":0.191},{"w":7407,"f":0.173},{"w":7411,"f":0.303},{"w":7415,"f":0.229},{"w":7418,"f":0.135},{"w":7422,"f":-0.032},{"w":7426,"f":0.024},{"w":7430,"f":0.229},{"w":7433,"f":0.135},{"w":7437,"f":-0.255},{"w":7441,"f":0.08},{"w":7445,"f":0.061},{"w":7448,"f":0.135},{"w":7452,"f":0.061},{"w":7456,"f":0.154},{"w":7460,"f":-0.013},{"w":7463,"f":-0.181},{"w":7467,"f":0.024},{"w":7471,"f":0.238},{"w":7474,"f":-0.013},{"w":7478,"f":-0.423},{"w":7482,"f":0.024},{"w":7486,"f":0.154},{"w":7489,"f":0.154},{"w":7493,"f":0.135},{"w":7497,"f":0.173},{"w":7501,"f":-0.237},{"w":7504,"f":-0.032},{"w":7508,"f":-0.255},{"w":7512,"f":-0.162},{"w":7516,"f":-0.2},{"w":7519,"f":0.405},{"w":7523,"f":-0.237},{"w":7527,"f":-0.162},{"w":7531,"f":-0.069},{"w":7534,"f":-0.088},{"w":7538,"f":-0.069},{"w":7542,"f":-0.181},{"w":7546,"f":0.154},{"w":7549,"f":0.247},{"w":7553,"f":0.117},{"w":7557,"f":0.024},{"w":7561,"f":0.098},{"w":7564,"f":0.024},{"w":7568,"f":-0.293},{"w":7572,"f":0.154},{"w":7576,"f":0.154},{"w":7579,"f":0.359},{"w":7583,"f":0.284},{"w":7587,"f":0.135},{"w":7591,"f":0.284},{"w":7594,"f":-0.2},{"w":7598,"f":0.08},{"w":7602,"f":-0.33},{"w":7606,"f":-0.525},{"w":7609,"f":-0.088},{"w":7613,"f":0.135},{"w":7617,"f":0.191},{"w":7621,"f":0.042},{"w":7624,"f":0.024},{"w":7628,"f":0.154},{"w":7632,"f":0.536},{"w":7636,"f":0.229},{"w":7639,"f":-0.302},{"w":7643,"f":0.061},{"w":7647,"f":0.005},{"w":7650,"f":0.173},{"w":7654,"f":0.024},{"w":7658,"f":0.154},{"w":7662,"f":-0.013},{"w":7665,"f":0.098},{"w":7669,"f":0.191},{"w":7673,"f":0.098},{"w":7677,"f":-0.162},{"w":7680,"f":0.005},{"w":7684,"f":0.061},{"w":7688,"f":0.21},{"w":7692,"f":0.154},{"w":7695,"f":0.191},{"w":7699,"f":-0.032},{"w":7703,"f":0.21},{"w":7707,"f":0.34},{"w":7710,"f":0.229},{"w":7714,"f":-0.311},{"w":7718,"f":-0.051},{"w":7722,"f":-0.051},{"w":7725,"f":-0.265},{"w":7729,"f":0.061},{"w":7733,"f":0.08},{"w":7737,"f":0.098},{"w":7740,"f":0.191},{"w":7744,"f":0.396},{"w":7748,"f":0.135},{"w":7752,"f":0.303},{"w":7755,"f":0.284},{"w":7759,"f":0.173},{"w":7763,"f":0.322},{"w":7767,"f":-0.237},{"w":7770,"f":-0.237},{"w":7774,"f":-0.032},{"w":7778,"f":-0.013},{"w":7782,"f":-0.2},{"w":7785,"f":-0.311},{"w":7789,"f":0.229},{"w":7793,"f":-0.33},{"w":7797,"f":-0.162},{"w":7800,"f":0.173},{"w":7804,"f":-0.637},{"w":7808,"f":-0.181},{"w":7812,"f":-0.628},{"w":7815,"f":-0.2},{"w":7819,"f":0.117},{"w":7823,"f":-0.162},{"w":7827,"f":-0.311},{"w":7830,"f":-0.2},{"w":7834,"f":0.061},{"w":7838,"f":-0.423},{"w":7841,"f":-0.311},{"w":7845,"f":-0.842},{"w":7849,"f":-0.237},{"w":7853,"f":0.061},{"w":7856,"f":-0.162},{"w":7860,"f":-0.051},{"w":7864,"f":-0.311},{"w":7868,"f":-0.2},{"w":7871,"f":0.415},{"w":7875,"f":-0.293},{"w":7879,"f":-0.088},{"w":7883,"f":-0.181},{"w":7886,"f":-0.125},{"w":7890,"f":-0.032},{"w":7894,"f":-0.237},{"w":7898,"f":-0.088},{"w":7901,"f":-0.218},{"w":7905,"f":-0.051},{"w":7909,"f":-0.953},{"w":7913,"f":-0.274},{"w":7916,"f":0.201},{"w":7920,"f":-0.106},{"w":7924,"f":0.005},{"w":7928,"f":-0.367},{"w":7931,"f":0.052},{"w":7935,"f":-0.237},{"w":7939,"f":-0.106},{"w":7943,"f":-0.721},{"w":7946,"f":-0.218},{"w":7950,"f":-0.218},{"w":7954,"f":-0.237},{"w":7958,"f":-0.758},{"w":7961,"f":-0.2},{"w":7965,"f":-0.125},{"w":7969,"f":-0.255},{"w":7973,"f":-0.181},{"w":7976,"f":0.042},{"w":7980,"f":-0.348},{"w":7984,"f":-0.386},{"w":7988,"f":-0.181},{"w":7991,"f":-0.544},{"w":7995,"f":0.042},{"w":7999,"f":0.135},{"w":8003,"f":0.377},{"w":8006,"f":-0.181},{"w":8010,"f":0.322},{"w":8014,"f":0.34},{"w":8018,"f":-0.051},{"w":8021,"f":-0.572},{"w":8025,"f":0.08},{"w":8029,"f":0.135},{"w":8032,"f":0.191},{"w":8036,"f":0.135},{"w":8040,"f":0.08},{"w":8044,"f":0.005},{"w":8047,"f":-0.348},{"w":8051,"f":0.024},{"w":8055,"f":-0.013},{"w":8059,"f":-0.2},{"w":8062,"f":0.042},{"w":8066,"f":0.024},{"w":8070,"f":-0.032},{"w":8074,"f":-0.2},{"w":8077,"f":-0.051},{"w":8081,"f":0.08},{"w":8085,"f":0.08},{"w":8089,"f":-0.293},{"w":8092,"f":-0.125},{"w":8096,"f":-0.125},{"w":8100,"f":-0.33},{"w":8104,"f":0.154},{"w":8107,"f":-0.013},{"w":8111,"f":-0.106},{"w":8115,"f":0.098},{"w":8119,"f":0.098},{"w":8122,"f":0.173},{"w":8126,"f":0.024},{"w":8130,"f":0.098},{"w":8134,"f":-0.181},{"w":8137,"f":0.247},{"w":8141,"f":-0.032},{"w":8145,"f":-0.246},{"w":8149,"f":0.042},{"w":8152,"f":0.005},{"w":8156,"f":-0.032},{"w":8160,"f":0.117},{"w":8164,"f":0.042},{"w":8167,"f":0.322},{"w":8171,"f":0.098},{"w":8175,"f":0.247},{"w":8179,"f":-0.069},{"w":8182,"f":-0.088},{"w":8186,"f":-0.051},{"w":8190,"f":0.154},{"w":8194,"f":0.229},{"w":8197,"f":0.303},{"w":8201,"f":0.247},{"w":8205,"f":-0.013},{"w":8209,"f":-0.2},{"w":8212,"f":0.098},{"w":8216,"f":0.21},{"w":8220,"f":0.229},
{"w":8224,"f":0.21},{"w":8227,"f":0.135},{"w":8231,"f":0.21},{"w":8235,"f":0.284},{"w":8238,"f":0.042},{"w":8242,"f":0.135},{"w":8245,"f":-0.032},{"w":8249,"f":-0.162},{"w":8253,"f":-0.162},{"w":8256,"f":-0.2},{"w":8260,"f":-0.106},{"w":8264,"f":-0.051},{"w":8267,"f":0.024},{"w":8271,"f":0.135},{"w":8274,"f":0.75},{"w":8278,"f":0.135},{"w":8280,"f":-0.33},{"w":8283,"f":0.135},{"w":8287,"f":0.284},{"w":8290,"f":0.042},{"w":8293,"f":0.266},{"w":8296,"f":-0.125},{"w":8300,"f":0.284},{"w":8303,"f":-0.311},{"w":8307,"f":0.08},{"w":8311,"f":-0.144},{"w":8314,"f":-0.414},{"w":8318,"f":-0.032},{"w":8321,"f":0.182},{"w":8325,"f":-0.237},{"w":8329,"f":-0.088},{"w":8332,"f":-0.404},{"w":8336,"f":0.266},{"w":8340,"f":0.229},{"w":8343,"f":-0.051},{"w":8347,"f":-0.311},{"w":8350,"f":-0.237},{"w":8354,"f":-0.088},{"w":8358,"f":-0.507},{"w":8361,"f":-0.051},{"w":8365,"f":0.005},{"w":8368,"f":0.024},{"w":8372,"f":0.154},{"w":8376,"f":0.024},{"w":8379,"f":0.052},{"w":8383,"f":-0.051},{"w":8387,"f":-0.125},{"w":8390,"f":-0.013},{"w":8394,"f":-0.181},{"w":8397,"f":-0.013},{"w":8401,"f":-0.144},{"w":8405,"f":0.005},{"w":8408,"f":-0.255},{"w":8412,"f":-0.311},{"w":8416,"f":-0.069},{"w":8419,"f":-0.274},{"w":8423,"f":-0.069},{"w":8426,"f":-0.162},{"w":8430,"f":0.098},{"w":8434,"f":0.135},{"w":8437,"f":0.154},{"w":8441,"f":-0.348},{"w":8445,"f":0.024},{"w":8448,"f":-0.162},{"w":8452,"f":0.005},{"w":8455,"f":-0.386},{"w":8459,"f":0.424},{"w":8463,"f":-0.069},{"w":8466,"f":-0.013},{"w":8470,"f":-0.088},{"w":8473,"f":-0.032},{"w":8477,"f":-0.088},{"w":8481,"f":-0.051},{"w":8484,"f":-0.088},{"w":8488,"f":-0.702},{"w":8492,"f":-0.2},{"w":8495,"f":0.098},{"w":8499,"f":0.135},{"w":8502,"f":0.173},{"w":8506,"f":-0.013},{"w":8510,"f":0.098},{"w":8513,"f":-0.181},{"w":8517,"f":-0.162},{"w":8521,"f":-0.144},{"w":8524,"f":0.042},{"w":8528,"f":-0.013},{"w":8531,"f":0.601},{"w":8535,"f":0.173},{"w":8539,"f":-0.218},{"w":8542,"f":-0.33},{"w":8546,"f":-0.162},{"w":8550,"f":0.024},{"w":8553,"f":0.061},{"w":8557,"f":-0.106},{"w":8560,"f":-0.106},{"w":8564,"f":-0.106},{"w":8568,"f":-0.032},{"w":8571,"f":0.098},{"w":8575,"f":0.135},{"w":8578,"f":0.061},{"w":8582,"f":-0.051},{"w":8586,"f":0.21},{"w":8589,"f":0.191},{"w":8593,"f":0.284},{"w":8597,"f":0.247},{"w":8600,"f":0.21},{"w":8604,"f":0.247},{"w":8607,"f":0.024},{"w":8611,"f":-0.237},{"w":8615,"f":-0.823},{"w":8618,"f":0.247},{"w":8622,"f":-0.2},{"w":8626,"f":0.21},{"w":8629,"f":-0.2},{"w":8633,"f":0.135},{"w":8636,"f":0.247},{"w":8640,"f":-0.162},{"w":8644,"f":-0.088},{"w":8647,"f":-0.237},{"w":8651,"f":-0.293},{"w":8654,"f":-0.311},{"w":8658,"f":-0.348},{"w":8662,"f":-0.348},{"w":8665,"f":-0.423},{"w":8669,"f":0.005},{"w":8673,"f":-0.311},{"w":8676,"f":-0.33},{"w":8680,"f":0.154},{"w":8683,"f":0.061},{"w":8687,"f":-0.162},{"w":8691,"f":0.08},{"w":8694,"f":0.08},{"w":8698,"f":-0.2},{"w":8702,"f":-0.162},{"w":8705,"f":0.173},{"w":8709,"f":0.191},{"w":8712,"f":0.396},{"w":8716,"f":0.098},{"w":8720,"f":0.229},{"w":8723,"f":0.173},{"w":8727,"f":0.098},{"w":8730,"f":0.042},{"w":8734,"f":0.024},{"w":8738,"f":-0.237},{"w":8741,"f":-0.33},{"w":8745,"f":-0.237},{"w":8749,"f":-0.646},{"w":8752,"f":-0.125},{"w":8756,"f":-0.497},{"w":8759,"f":1.28},{"w":8763,"f":0.135},{"w":8767,"f":-0.348},{"w":8770,"f":-1.297},{"w":8774,"f":-1.297},{"w":8778,"f":-0.162},{"w":8781,"f":-0.125},{"w":8785,"f":-0.013},{"w":8788,"f":0.098},{"w":8792,"f":-0.013},{"w":8796,"f":-0.237},{"w":8799,"f":-0.2},{"w":8803,"f":-0.162},{"w":8807,"f":-0.2},{"w":8810,"f":0.024},{"w":8814,"f":-0.423},{"w":8817,"f":-0.051},{"w":8821,"f":0.545},{"w":8825,"f":-0.497},{"w":8828,"f":-0.423},{"w":8832,"f":-0.702},{"w":8836,"f":-0.46},{"w":8839,"f":-0.46},{"w":8843,"f":-0.237},{"w":8846,"f":-0.088},{"w":8850,"f":-0.237},{"w":8854,"f":0.117},{"w":8857,"f":-0.274},{"w":8861,"f":-0.907},{"w":8864,"f":-0.237},{"w":8868,"f":-0.125},{"w":8872,"f":-0.013},{"w":8875,"f":-0.311},{"w":8879,"f":-0.581},{"w":8883,"f":-0.274},{"w":8886,"f":-0.218},{"w":8890,"f":-0.106},{"w":8893,"f":-0.162},{"w":8897,"f":0.517},{"w":8901,"f":-0.2},{"w":8904,"f":-0.162},{"w":8908,"f":-0.386},{"w":8912,"f":-0.721},{"w":8915,"f":1.029},{"w":8919,"f":-0.386},{"w":8922,"f":-0.013},{"w":8926,"f":-0.088},{"w":8930,"f":-0.386},{"w":8933,"f":-0.516},{"w":8937,"f":-1.195},{"w":8940,"f":-0.311},{"w":8944,"f":-0.293},{"w":8948,"f":-0.125},{"w":8951,"f":-0.162},{"w":8955,"f":-0.423},{"w":8959,"f":0.024},{"w":8962,"f":-0.423},{"w":8966,"f":-0.404},{"w":8969,"f":-0.2},{"w":8973,"f":-0.311},{"w":8977,"f":0.024},{"w":8980,"f":-1.307},{"w":8984,"f":-0.255},{"w":8988,"f":-0.218},{"w":8991,"f":0.061},{"w":8995,"f":-0.674},{"w":8998,"f":-0.33},{"w":9002,"f":0.061},{"w":9006,"f":-0.237},{"w":9009,"f":-0.088},{"w":9013,"f":0.061},{"w":9016,"f":0.238},{"w":9020,"f":-0.2},{"w":9024,"f":0.284},{"w":9027,"f":-0.311},{"w":9031,"f":0.247},{"w":9035,"f":-0.013},{"w":9038,"f":-0.702},{"w":9042,"f":-0.032},{"w":9045,"f":0.34},{"w":9049,"f":-0.088},{"w":9053,"f":0.247},{"w":9056,"f":0.024},{"w":9060,"f":0.154},{"w":9064,"f":-0.125},{"w":9067,"f":0.191},{"w":9071,"f":-0.013},{"w":9074,"f":-0.274},{"w":9078,"f":-0.162},{"w":9082,"f":-0.274},{"w":9085,"f":0.173},{"w":9089,"f":0.135},{"w":9092,"f":-0.181},{"w":9096,"f":-0.814},{"w":9100,"f":-0.162},{"w":9103,"f":0.284},{"w":9107,"f":-0.013},{"w":9111,"f":0.024},{"w":9114,"f":0.154},{"w":9118,"f":0.135},{"w":9121,"f":-0.237},{"w":9125,"f":0.135},{"w":9129,"f":0.21},{"w":9132,"f":0.284},{"w":9136,"f":0.173},{"w":9140,"f":-0.051},{"w":9143,"f":0.08},{"w":9147,"f":0.135},{"w":9150,"f":0.359},{"w":9154,"f":-0.013},{"w":9158,"f":-0.051},{"w":9161,"f":-0.032},{"w":9165,"f":0.098},{"w":9169,"f":0.229},{"w":9172,"f":0.024},{"w":9176,"f":0.173},{"w":9179,"f":0.154},{"w":9183,"f":0.024},{"w":9187,"f":0.303},{"w":9190,"f":-0.051},{"w":9194,"f":-0.144},{"w":9197,"f":0.135},{"w":9201,"f":-0.293},{"w":9205,"f":-0.032},{"w":9208,"f":0.247},{"w":9212,"f":0.135},{"w":9216,"f":-0.144},{"w":9219,"f":0.135},{"w":9223,"f":0.284},{"w":9226,"f":0.34},{"w":9230,"f":-0.013},{"w":9234,"f":-0.162},{"w":9237,"f":0.173},{"w":9241,"f":-0.051},{"w":9245,"f":0.024},{"w":9248,"f":0.061},{"w":9252,"f":-0.181},{"w":9255,"f":-0.255},{"w":9259,"f":0.024},{"w":9263,"f":0.191},{"w":9266,"f":0.173},{"w":9270,"f":-0.237},{"w":9274,"f":0.08},{"w":9277,"f":-0.609},{"w":9281,"f":-0.237},{"w":9284,"f":0.117},{"w":9288,"f":-0.535},{"w":9292,"f":0.098},{"w":9295,"f":-0.535},{"w":9299,"f":-0.52}
    ]
  },
  "encoding": {
    "x": {"field": "w", "type": "quantitative", "scale": {"domain": [4750, 9300], "nice": false, "zero": false}, "axis": {"title": "Wavelength", "values": [5000, 6000, 7000, 8000, 9000], "format": "d", "labelFontSize": 28, "labelPadding": 14, "labelFlush": false, "titleFontSize": 33, "titlePadding": 2}},
    "y": {"field": "f", "type": "quantitative", "scale": {"domain": [-1.442, 1.404], "nice": false, "zero": false}, "axis": {"title": "10⁻¹⁸ erg s⁻¹ cm⁻² Å⁻¹", "values": [-1, -0.5, 0, 0.5, 1], "format": ".1f", "labelFontSize": 33, "labelPadding": 17, "titleFontSize": 48, "titlePadding": 28}}
  },
  "layer": [
    {"data": {"name": "noise"}, "mark": {"type": "line", "color": "#008000", "strokeWidth": 1.3, "clip": true}},
    {"data": {"name": "zero"}, "mark": {"type": "line", "color": "#0000ff", "strokeWidth": 5, "clip": true}},
    {"data": {"name": "flux"}, "mark": {"type": "line", "color": "#000000", "strokeWidth": 4.2, "strokeJoin": "round", "clip": true}}
  ]
}
